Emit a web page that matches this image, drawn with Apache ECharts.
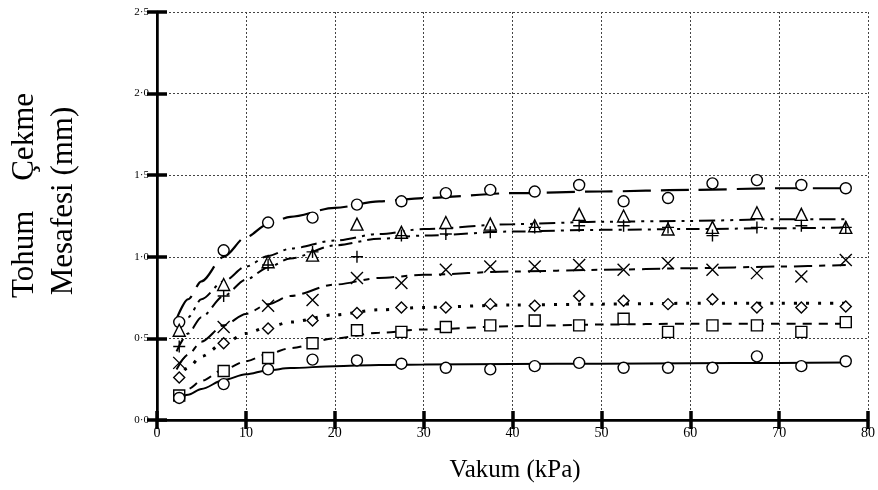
<!DOCTYPE html>
<html><head><meta charset="utf-8">
<script src="https://cdn.jsdelivr.net/npm/echarts@6/dist/echarts.min.js"></script>
<style>html,body{margin:0;padding:0;background:#fff}#c{width:878px;height:490px}</style>
</head><body><div id="c"></div>
<script>
// Measured points (x = vacuum kPa)
const kPa = [2.5,7.5,12.5,17.5,22.5,27.5,32.5,37.5,42.5,47.5,52.5,57.5,62.5,67.5,72.5,77.5];
const circleTop = [0.60,1.04,1.21,1.24,1.32,1.34,1.39,1.41,1.40,1.44,1.34,1.36,1.45,1.47,1.44,1.42];
const triangle  = [0.55,0.83,0.97,1.01,1.20,1.15,1.21,1.20,1.19,1.26,1.25,1.17,1.18,1.27,1.26,1.18];
const plus      = [0.45,0.76,0.95,1.03,1.00,1.13,1.14,1.15,1.18,1.19,1.19,1.18,1.13,1.18,1.19,1.18];
const cross     = [0.35,0.57,0.70,0.735,0.87,0.84,0.92,0.94,0.94,0.95,0.92,0.96,0.92,0.90,0.88,0.98];
const diamond   = [0.26,0.47,0.56,0.61,0.655,0.69,0.69,0.71,0.70,0.76,0.73,0.71,0.74,0.69,0.69,0.695];
const square    = [0.15,0.30,0.38,0.47,0.55,0.54,0.57,0.58,0.61,0.58,0.62,0.54,0.58,0.58,0.54,0.60];
const circleLow = [0.135,0.22,0.31,0.37,0.365,0.345,0.32,0.31,0.33,0.35,0.32,0.32,0.32,0.39,0.33,0.36];

// Fitted curves
const curveX       = [2.2,3.5,5,7.5,10,12.5,15,20,25,30,40,50,60,70,77.5];
const fitCircleTop = [0.62,0.74,0.85,1.00,1.12,1.20,1.245,1.30,1.34,1.36,1.39,1.40,1.41,1.42,1.42];
const fitTriangle  = [0.52,0.63,0.74,0.85,0.94,1.005,1.05,1.10,1.14,1.17,1.20,1.215,1.22,1.23,1.23];
const fitPlus      = [0.42,0.53,0.63,0.76,0.86,0.935,0.99,1.07,1.11,1.13,1.155,1.165,1.17,1.175,1.18];
const fitCross     = [0.31,0.40,0.48,0.58,0.65,0.71,0.76,0.83,0.87,0.89,0.91,0.92,0.93,0.94,0.95];
const fitDiamond   = [0.25,0.32,0.39,0.47,0.53,0.57,0.60,0.645,0.675,0.69,0.705,0.71,0.715,0.715,0.715];
const fitSquare    = [0.14,0.19,0.24,0.31,0.36,0.405,0.44,0.50,0.535,0.555,0.575,0.585,0.59,0.59,0.59];
const fitCircleLow = [0.12,0.155,0.19,0.245,0.28,0.305,0.318,0.33,0.337,0.34,0.343,0.345,0.348,0.35,0.352];

const xTicks = [0,10,20,30,40,50,60,70,80];

const FONT = 'Liberation Serif, Times New Roman, serif';
const pairs = (xs, ys) => xs.map((x, i) => [x, ys[i]]);

function curve(ys, dash, width) {
  return {
    type: 'line', data: pairs(curveX, ys), smooth: 0.3, smoothMonotone: 'x',
    showSymbol: false, silent: true, z: 2,
    lineStyle: { color: '#000', width: width || 2, type: dash }
  };
}
function marks(ys, symbol, size) {
  return {
    type: 'scatter', data: pairs(kPa, ys), symbol: symbol, symbolSize: size, z: 5,
    itemStyle: { color: (symbol.indexOf('path') === 0) ? 'transparent' : '#fff', borderColor: '#000', borderWidth: 1.4, opacity: 1 }
  };
}

const chart = echarts.init(document.getElementById('c'), null, { renderer: 'canvas' });
chart.setOption({
  animation: false,
  backgroundColor: '#fff',
  grid: { left: 157, right: 7, top: 12, bottom: 70 },
  xAxis: [{
    type: 'value', min: 0, max: 80, interval: 10, position: 'bottom',
    axisLine: { lineStyle: { color: '#000', width: 2.5 } },
    axisTick: { inside: true, length: 9, lineStyle: { color: '#000', width: 3.5 } },
    axisLabel: { color: '#000', fontFamily: FONT, fontSize: 14, margin: 6,
      customValues: xTicks, formatter: v => String(v) },
    splitLine: { show: true, lineStyle: { color: '#444', width: 1, type: [2, 2] } }
  }, {
    type: 'value', min: 0, max: 80, interval: 10, position: 'top',
    axisLine: { show: true, lineStyle: { color: '#000', width: 2 } },
    axisTick: { show: true, inside: true, length: 9, lineStyle: { color: '#000', width: 3.5 } },
    axisLabel: { show: false }, splitLine: { show: false }
  }],
  yAxis: [{
    type: 'value', min: 0, max: 2.5, interval: 0.5, position: 'left',
    axisLine: { show: true, lineStyle: { color: '#000', width: 2.5 } },
    axisTick: { show: true, inside: true, length: 10, lineStyle: { color: '#000', width: 3.5 } },
    axisLabel: { color: '#000', fontFamily: FONT, fontSize: 11, margin: 8,
      formatter: v => v.toFixed(1).replace('.', '·') },
    splitLine: { show: true, lineStyle: { color: '#444', width: 1, type: [2, 2] } }
  }, {
    type: 'value', min: 0, max: 2.5, interval: 0.5, position: 'right',
    axisLine: { show: true, lineStyle: { color: '#000', width: 2 } },
    axisTick: { show: true, inside: true, length: 10, lineStyle: { color: '#000', width: 3.5 } },
    axisLabel: { show: false }, splitLine: { show: false }
  }],
  graphic: [
    { type: 'text', x: 515, y: 470, style: { text: 'Vakum (kPa)', font: '25px ' + FONT, fill: '#000', align: 'center', verticalAlign: 'middle' } },
    { type: 'text', x: 25, y: 298, rotation: Math.PI / 2, style: { text: 'Tohum', font: '31px ' + FONT, fill: '#000', align: 'left', verticalAlign: 'middle' } },
    { type: 'text', x: 25, y: 93, rotation: Math.PI / 2, style: { text: 'Çekme', font: '31px ' + FONT, fill: '#000', align: 'right', verticalAlign: 'middle' } },
    { type: 'text', x: 64, y: 201, rotation: Math.PI / 2, style: { text: 'Mesafesi (mm)', font: '31px ' + FONT, fill: '#000', align: 'center', verticalAlign: 'middle' } }
  ],
  series: [
    curve(fitCircleTop, [28, 10], 2.2),
    curve(fitTriangle, [16, 6, 3, 6, 3, 6], 2),
    curve(fitPlus, [14, 6, 3, 6], 2),
    curve(fitCross, [18, 7, 6, 7], 2),
    curve(fitDiamond, [3, 9], 3),
    curve(fitSquare, [9, 7], 2),
    curve(fitCircleLow, 'solid', 2),
    marks(circleTop, 'circle', 11),
    marks(triangle, 'triangle', 12),
    marks(plus, 'path://M5,0L5,10M0,5L10,5', 12),
    marks(cross, 'path://M0,0L10,10M10,0L0,10', 12),
    marks(diamond, 'diamond', 11),
    marks(square, 'rect', 11),
    marks(circleLow, 'circle', 11)
  ]
});
</script>
</body></html>
